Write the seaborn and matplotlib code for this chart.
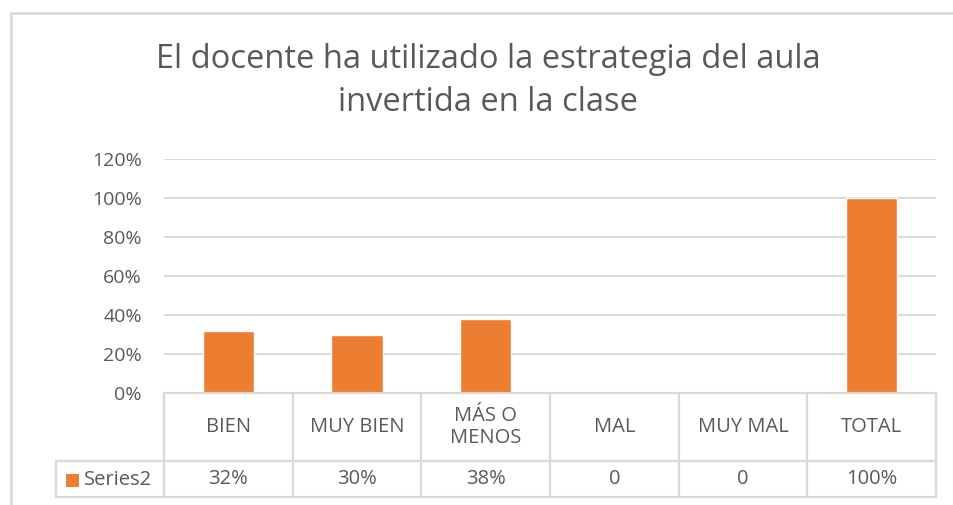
import matplotlib
matplotlib.use("Agg")
import matplotlib.pyplot as plt
import matplotlib.transforms as mtransforms
import pandas as pd
import seaborn as sns
from matplotlib.patches import Rectangle

# data
CATEGORIES = ["BIEN", "MUY BIEN", "MÁS O\nMENOS", "MAL", "MUY MAL", "TOTAL"]
VALUES = [0.32, 0.30, 0.38, 0.0, 0.0, 1.00]
TABLE_LABELS = ["32%", "30%", "38%", "0", "0", "100%"]
SERIES_NAME = "Series2"
TITLE = "El docente ha utilizado la estrategia del aula\ninvertida en la clase"
Y_TICKS = [0.0, 0.2, 0.4, 0.6, 0.8, 1.0, 1.2]

ORANGE = "#ED7D31"
TEXT = "#595959"
GRID = "#D9D9D9"

W, H = 954, 505

sns.set_theme(style="white")
plt.rcParams["font.family"] = ["Open Sans", "DejaVu Sans"]

df = pd.DataFrame({"category": CATEGORIES, "value": VALUES})

fig = plt.figure(figsize=(W / 100, H / 100), dpi=100)
fig.patch.set_facecolor("white")

# plot area in pixels: x 164..936, y 159..393
ax = fig.add_axes([164 / W, (H - 393) / H, (936 - 164) / W, (393 - 159) / H])
sns.barplot(data=df, x="category", y="value", color=ORANGE, width=0.4,
            saturation=1, ax=ax)
ax.set_xlim(-0.5, len(CATEGORIES) - 0.5)
ax.set_ylim(0, 1.2)
ax.set_yticks(Y_TICKS)
ax.set_yticklabels([f"{int(round(t * 100))}%" for t in Y_TICKS])
ax.tick_params(axis="y", length=0, pad=16, labelsize=14, labelcolor=TEXT)
ax.set_xticks([])
ax.set_xlabel("")
ax.set_ylabel("")
for t in Y_TICKS[1:]:
    ax.axhline(t, color=GRID, lw=1.4, zorder=0)
for side in ["top", "right", "left"]:
    ax.spines[side].set_visible(False)
ax.spines["bottom"].set_color(GRID)
ax.spines["bottom"].set_linewidth(1.6)

fig.suptitle(TITLE, x=488 / W, y=1 - 43 / H, va="top", fontsize=23.5,
             color=TEXT, linespacing=1.4)

# data table under the axis
trans = mtransforms.blended_transform_factory(ax.transData, ax.transAxes)
header_bottom = -(461 - 393) / (393 - 159)
table_bottom = -(497 - 393) / (393 - 159)
label_left = -0.5 - (164 - 56) / ((936 - 164) / len(CATEGORIES))
n = len(CATEGORIES)
line_kw = dict(color=GRID, lw=1.6, transform=trans, clip_on=False)

for i in range(n + 1):
    xb = i - 0.5
    ax.plot([xb, xb], [0, table_bottom], **line_kw)
ax.plot([label_left, label_left], [header_bottom, table_bottom], **line_kw)
ax.plot([label_left, n - 0.5], [header_bottom, header_bottom], **line_kw)
ax.plot([label_left, n - 0.5], [table_bottom, table_bottom], **line_kw)

for i, (cat, lab) in enumerate(zip(CATEGORIES, TABLE_LABELS)):
    ax.text(i, header_bottom / 2, cat, transform=trans, ha="center",
            va="center", fontsize=14.5, color=TEXT, linespacing=1.15)
    ax.text(i, (header_bottom + table_bottom) / 2, lab, transform=trans,
            ha="center", va="center", fontsize=14.5, color=TEXT)

# legend key in label cell
fig.patches.append(Rectangle((66 / W, (H - 487) / H), 13 / W, 13 / H,
                             transform=fig.transFigure,
                             facecolor=ORANGE, edgecolor="none"))
fig.text(84 / W, (H - 480) / H, SERIES_NAME, ha="left", va="center",
         fontsize=14.5, color=TEXT)

# chart border
fig.patches.append(Rectangle((11 / W, -0.05), 1.1, (H - 13) / H + 0.05,
                             transform=fig.transFigure, facecolor="none",
                             edgecolor=GRID, lw=2))

fig.savefig("out.png", dpi=100)
